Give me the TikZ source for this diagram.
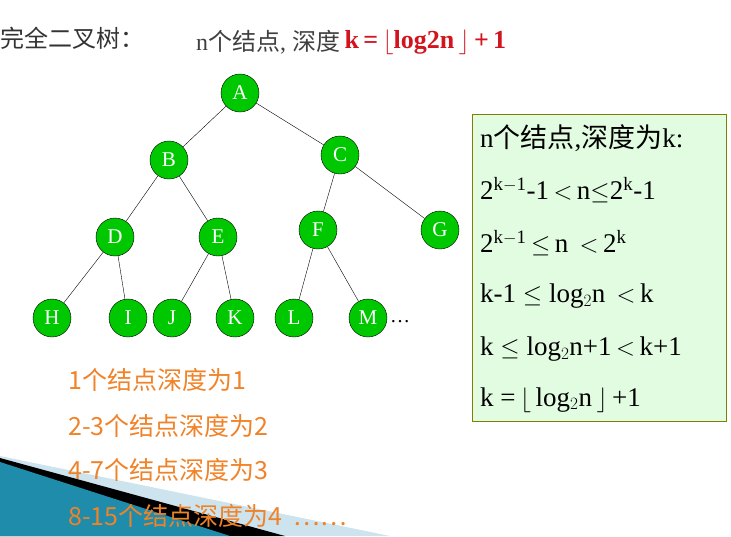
\documentclass[tikz,border=0pt]{standalone}
\usepackage{fontspec}
\setmainfont{Liberation Serif}
\newfontfamily\cjk{Noto Sans CJK SC}
\newcommand{\zh}[1]{{\cjk #1}}
\usetikzlibrary{positioning}
\definecolor{nodegreen}{RGB}{0,200,0}
\definecolor{boxgreen}{RGB}{226,252,226}
\definecolor{boxline}{RGB}{128,128,0}
\definecolor{orangetxt}{RGB}{240,130,40}
\definecolor{titlered}{RGB}{210,20,30}
\definecolor{tealdeco}{RGB}{30,140,170}
\definecolor{palededo}{RGB}{205,228,238}
\begin{document}
\begin{tikzpicture}[x=1pt,y=-1pt]
	\tikzstyle{t-node}=[circle,draw=black,fill=nodegreen,text=white,minimum size=38pt,inner sep=0pt,font=\fontsize{21}{21}\selectfont]
	\tikzstyle{annot}=[anchor=west,inner sep=0pt,font=\fontsize{27}{27}\selectfont]
	\tikzstyle{depth}=[anchor=west,inner sep=0pt,text=orangetxt,font=\fontsize{25}{25}\selectfont\cjk]
	\useasboundingbox (0,0) rectangle (731,536);
	% corner decoration
	\fill[palededo] (0,456) -- (390,536) -- (0,536) -- cycle;
	\fill[black] (0,458) -- (285,536) -- (0,536) -- cycle;
	\fill[tealdeco] (0,462) -- (230,536) -- (0,536) -- cycle;
	% title
	\node[annot,text=black!80,font=\fontsize{24}{24}\selectfont] (title) at (0,38) {\zh{完全二叉树：}};
	\node[annot,text=black!75,font=\fontsize{24}{24}\selectfont] (count) at (196,42) {n\zh{个结点}, \zh{深度}};
	\node[annot,text=titlered,font=\fontsize{26}{26}\selectfont\bfseries,right=4pt of count] (formula) {k\,=\,$\lfloor$log2n\,$\rfloor$\,+\,1};
	% tree
	\node[t-node] (A) at (240,93) {A};
	\node[t-node] (B) at (169,160) {B};
	\node[t-node] (C) at (340,155) {C};
	\node[t-node] (D) at (115,237) {D};
	\node[t-node] (E) at (218,237) {E};
	\node[t-node] (F) at (318,230) {F};
	\node[t-node] (G) at (440,230) {G};
	\node[t-node] (H) at (52,318) {H};
	\node[t-node] (I) at (128,318) {I};
	\node[t-node] (J) at (172,318) {J};
	\node[t-node] (K) at (235,318) {K};
	\node[t-node] (L) at (294,318) {L};
	\node[t-node] (M) at (368,318) {M};
	\node[anchor=west,inner sep=0pt,font=\fontsize{20}{20}\selectfont] (more) at (390,322) {\ldots};
	\foreach \p/\c in {A/B,A/C,B/D,B/E,C/F,C/G,D/H,D/I,E/J,E/K,F/L,F/M}
		\draw (\p) -- (\c);
	% depth per level
	\node[depth] (d1) at (68,380) {1个结点深度为1};
	\node[depth] (d2) at (68,426) {2-3个结点深度为2};
	\node[depth] (d3) at (68,470) {4-7个结点深度为3};
	\node[depth] (d4) at (68,516) {8-15个结点深度为4 \ ……};
	% box with derivation
	\draw[boxline,fill=boxgreen] (472,114) rectangle (726,421);
	\node[annot] (r1) at (480,138) {n\zh{个结点},\zh{深度为}k:};
	\node[annot] (r2) at (480,190) {2$^{\mathrm{k-1}}$-1\,$<$\,n$\leq$2$^{\mathrm{k}}$-1};
	\node[annot] (r3) at (480,243) {2$^{\mathrm{k-1}}$\,$\leq$\,n \,$<$\,2$^{\mathrm{k}}$};
	\node[annot] (r4) at (480,296) {k-1 $\leq$ log$_2$n \,$<$\,k};
	\node[annot] (r5) at (480,349) {k $\leq$ log$_2$n+1\,$<$\,k+1};
	\node[annot] (r6) at (480,400) {k =\,$\lfloor$\,log$_2$n\,$\rfloor$\,+1};
\end{tikzpicture}
\end{document}
